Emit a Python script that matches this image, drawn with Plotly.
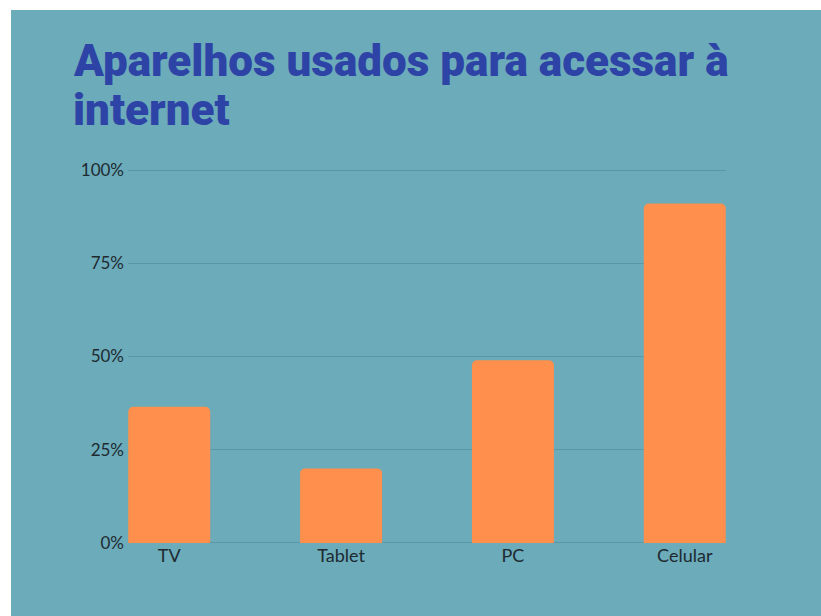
import plotly.graph_objects as go

categories = ["TV", "Tablet", "PC", "Celular"]
values = [0.365, 0.20, 0.49, 0.91]
y_ticks = [0, 0.25, 0.5, 0.75, 1.0]
y_tick_labels = ["0%", "25%", "50%", "75%", "100%"]
title_lines = ["Aparelhos usados para acessar à", "internet"]

W, H = 821, 616
L, R, T, B = 128, 95, 169, 72
ph = H - T - B
EXT = 1.0 / 371  # one pixel of value, so the 0% and 100% gridlines are drawn

def py(pix):
    return (H - B - pix) / ph

def px(pix):
    return (pix - L) / (W - L - R)

TEAL = "#6BABBA"
ORANGE = "#FF8F4C"
BLUE = "#2E43A6"

fig = go.Figure()
fig.add_trace(go.Bar(
    x=categories, y=values, width=0.477,
    marker=dict(color=ORANGE, line=dict(width=0), cornerradius=5),
    hoverinfo="skip",
))

fig.update_layout(
    width=W, height=H, autosize=False,
    margin=dict(l=L, r=R, t=T, b=B, pad=0),
    paper_bgcolor="white", plot_bgcolor="rgba(0,0,0,0)",
    showlegend=False,
    font=dict(family="Lato", size=17, color="#1E2A30"),
    xaxis=dict(type="category", range=[-0.24, 3.24], showgrid=False, zeroline=False,
               showline=False, ticks="", fixedrange=True, tickfont=dict(size=18),
               ticklabelstandoff=-1),
    yaxis=dict(range=[-EXT, 1 + EXT], tickvals=y_ticks, ticktext=y_tick_labels,
               showgrid=True, gridcolor="#5A96A5", gridwidth=1.3, zeroline=False,
               showline=False, ticks="", fixedrange=True, ticklabelstandoff=3),
    shapes=[dict(type="rect", xref="paper", yref="paper", layer="below",
                 x0=px(11), x1=px(822), y0=py(10), y1=py(617),
                 fillcolor=TEAL, line=dict(width=0))],
)

title_font = dict(family="Roboto", size=44, color=BLUE, weight=900)
for line, ymid in zip(title_lines, [61, 110]):
    fig.add_annotation(text=line, xref="paper", yref="paper", x=px(71), y=py(ymid),
                       xanchor="left", yanchor="middle", showarrow=False, font=title_font)

fig.write_html("out.html", config={"displayModeBar": False},
               post_script="document.body.style.margin='0';")
